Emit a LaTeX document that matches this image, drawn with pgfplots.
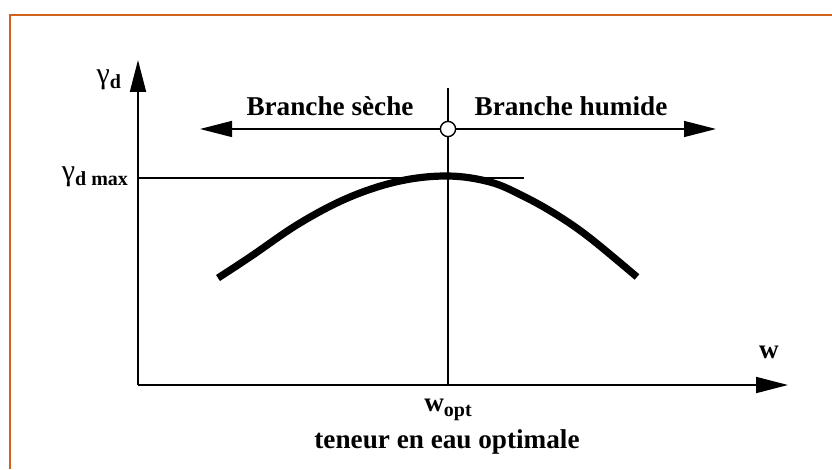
\documentclass[border=0pt]{standalone}
\usepackage{fontspec}
\setmainfont{Liberation Serif}
\usepackage{pgfplots}
\pgfplotsset{compat=1.18}
\usetikzlibrary{arrows.meta}

\definecolor{frameorange}{RGB}{208,98,30}
\tikzset{bigtip/.tip={Triangle[length=16pt,width=8pt]}}

% data units are pixels of the reference, origin at the axes' corner
\begin{document}
\begin{tikzpicture}
\begin{axis}[
    scale only axis,
    width=416pt, height=234.5pt,
    xmin=-138, xmax=694,
    ymin=-84, ymax=385,
    hide axis,
    clip=false,
    font=\fontsize{13.6}{15}\selectfont\bfseries,
  ]
  % frame (only the top and left edges show)
  \addplot[frameorange, line width=1.3pt] coordinates {(-128,-84) (-128,370) (694,370)};

  % axes
  \addplot[line width=0.9pt, -bigtip] coordinates {(0,0) (0,325)};
  \addplot[line width=0.9pt, -bigtip] coordinates {(0,0) (650,0)};

  % guide lines
  \addplot[line width=0.7pt] coordinates {(0,207) (386,207)};
  \addplot[line width=0.7pt] coordinates {(310,0) (310,297)};
  \addplot[line width=0.7pt, bigtip-bigtip] coordinates {(62,256) (578,256)};

  % compaction curve
  \addplot[line width=3.6pt, smooth, tension=0.6] coordinates {
    (80,107) (112,128) (162,162) (212,188) (262,204) (310,209)
    (352,203) (385,189) (419,170) (452,147) (499,108)
  };

  % optimum marker
  \addplot[only marks, mark=*, mark size=3.8pt,
    mark options={fill=white, draw=black, line width=0.7pt}] coordinates {(310,256)};

  % labels
  \node[anchor=base] at (axis cs:192,269) {Branche sèche};
  \node[anchor=base] at (axis cs:433,269) {Branche humide};
  \node[anchor=east] at (axis cs:-10,305)
    {\mdseries\fontsize{15}{15}\selectfont γ\raisebox{-0.35ex}{\bfseries\fontsize{10}{10}\selectfont d}};
  \node[anchor=east] at (axis cs:-3,208)
    {\mdseries\fontsize{15}{15}\selectfont γ\raisebox{-0.35ex}{\bfseries\fontsize{10}{10}\selectfont d max}};
  \node[anchor=base] at (axis cs:631,27) {w};
  \node[anchor=base] at (axis cs:310,-26) {w\raisebox{-0.45ex}{\fontsize{10}{10}\selectfont opt}};
  \node[anchor=base] at (axis cs:309,-63) {teneur en eau optimale};
\end{axis}
\pgfresetboundingbox
\useasboundingbox (current axis.south west) rectangle (current axis.north east);
\end{tikzpicture}
\end{document}
